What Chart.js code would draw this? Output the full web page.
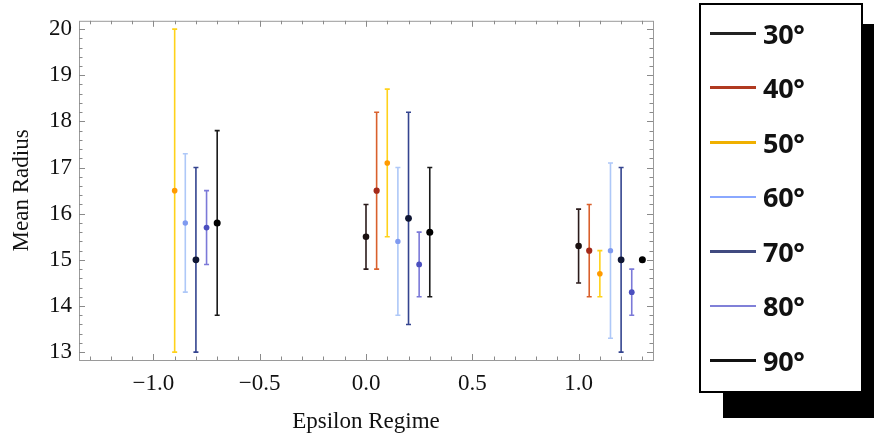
<!DOCTYPE html>
<html>
<head>
<meta charset="utf-8">
<script src="https://cdn.jsdelivr.net/npm/chart.js@4.4.1/dist/chart.umd.min.js"></script>
<style>
    html, body { margin: 0; padding: 0; background: #fff; }
    #wrap { position: relative; width: 874px; height: 440px; overflow: hidden; }
    #plot { position: absolute; left: 0; top: 0; }
    #legendShadow { position: absolute; left: 723px; top: 24px; width: 170px; height: 394px; background: #000; }
    #legend { position: absolute; left: 699px; top: 3px; width: 160px; height: 386px; background: #fff; border: 2px solid #000; }
    .entry { position: absolute; left: 9px; height: 30px; display: flex; align-items: center; }
    .entry .swatch { width: 46px; margin-right: 7px; }
    .entry span { font: bold 27px "Open Sans", "Liberation Sans", sans-serif; color: #111; letter-spacing: -0.3px; }
</style>
</head>
<body>
<div id="wrap">
    <canvas id="plot" width="874" height="440"></canvas>
    <div id="legendShadow"></div>
    <div id="legend"></div>
</div>
<script>
    // series labels and colours
    const angleLabels = ['30°', '40°', '50°', '60°', '70°', '80°', '90°'];
    const lineColors = ['#2b1b1b', '#d9602c', '#ffd21a', '#aec8f8', '#34448f', '#7b79d8', '#1a1a1a'];
    const pointColors = ['#1a1010', '#a32a1a', '#ff9a00', '#7f9af0', '#0f1633', '#4b4fbf', '#000000'];
    const legendColors = ['#222222', '#b03a20', '#f0b000', '#8aa8ff', '#404a80', '#8080d8', '#111111'];
    const pointSizes = [3.3, 3.1, 2.8, 2.7, 3.4, 2.9, 3.5];

    // epsilon regime (x), mean radius, half-width of error bar
    const eps30 = [0.0, 1.0];
    const mean30 = [15.5, 15.3];
    const err30 = [0.7, 0.8];

    const eps40 = [0.05, 1.05];
    const mean40 = [16.5, 15.2];
    const err40 = [1.7, 1.0];

    const eps50 = [-0.9, 0.1, 1.1];
    const mean50 = [16.5, 17.1, 14.7];
    const err50 = [3.5, 1.6, 0.5];

    const eps60 = [-0.85, 0.15, 1.15];
    const mean60 = [15.8, 15.4, 15.2];
    const err60 = [1.5, 1.6, 1.9];

    const eps70 = [-0.8, 0.2, 1.2];
    const mean70 = [15.0, 15.9, 15.0];
    const err70 = [2.0, 2.3, 2.0];

    const eps80 = [-0.75, 0.25, 1.25];
    const mean80 = [15.7, 14.9, 14.3];
    const err80 = [0.8, 0.7, 0.5];

    const eps90 = [-0.7, 0.3, 1.3];
    const mean90 = [15.8, 15.6, 15.0];
    const err90 = [2.0, 1.4, 0];

    const xTickValues = [-1.0, -0.5, 0.0, 0.5, 1.0];
    const xTickLabels = ['\u22121.0', '\u22120.5', '0.0', '0.5', '1.0'];
    const yTickValues = [13, 14, 15, 16, 17, 18, 19, 20];

    const seriesX = [eps30, eps40, eps50, eps60, eps70, eps80, eps90];
    const seriesMean = [mean30, mean40, mean50, mean60, mean70, mean80, mean90];
    const seriesErr = [err30, err40, err50, err60, err70, err80, err90];

    const datasets = angleLabels.map((label, i) => ({
        label: label,
        data: seriesX[i].map((x, j) => ({ x: x, y: seriesMean[i][j], err: seriesErr[i][j] })),
        pointRadius: pointSizes[i],
        pointBackgroundColor: pointColors[i],
        pointBorderWidth: 0,
        barColor: lineColors[i],
        showLine: false
    }));

    const errorBars = {
        id: 'errorBars',
        beforeDatasetsDraw(chart) {
            const { ctx, scales: { x, y } } = chart;
            ctx.save();
            ctx.lineWidth = 1.6;
            chart.data.datasets.forEach(ds => {
                ctx.strokeStyle = ds.barColor;
                ds.data.forEach(p => {
                    if (!p.err) return;
                    const px = x.getPixelForValue(p.x);
                    const top = y.getPixelForValue(p.y + p.err);
                    const bot = y.getPixelForValue(p.y - p.err);
                    ctx.beginPath();
                    ctx.moveTo(px, top);
                    ctx.lineTo(px, bot);
                    ctx.moveTo(px - 2.5, top);
                    ctx.lineTo(px + 2.5, top);
                    ctx.moveTo(px - 2.5, bot);
                    ctx.lineTo(px + 2.5, bot);
                    ctx.stroke();
                });
            });
            ctx.restore();
        }
    };

    // mathematica style frame with inward ticks on all sides
    const frame = {
        id: 'frame',
        beforeDatasetsDraw(chart) {
            const { ctx, chartArea: a, scales: { x, y } } = chart;
            ctx.save();
            ctx.strokeStyle = '#9a9a9a';
            ctx.lineWidth = 1;
            ctx.strokeRect(a.left + 0.5, a.top + 0.5, a.right - a.left, a.bottom - a.top);
            ctx.strokeStyle = '#8a8a8a';
            ctx.beginPath();
            for (let i = -13; i <= 13; i++) {
                const px = Math.round(x.getPixelForValue(i / 10)) + 0.5;
                const len = i % 5 === 0 ? 6 : 3.5;
                ctx.moveTo(px, a.bottom);
                ctx.lineTo(px, a.bottom - len);
                ctx.moveTo(px, a.top);
                ctx.lineTo(px, a.top + len);
            }
            for (let i = 65; i <= 100; i++) {
                const py = Math.round(y.getPixelForValue(i / 5)) + 0.5;
                const len = i % 5 === 0 ? 6 : 3.5;
                ctx.moveTo(a.left, py);
                ctx.lineTo(a.left + len, py);
                ctx.moveTo(a.right, py);
                ctx.lineTo(a.right - len, py);
            }
            ctx.stroke();
            ctx.restore();
        }
    };

    const serif = { family: '"Liberation Serif", "Times New Roman", serif', size: 23 };

    new Chart(document.getElementById('plot').getContext('2d'), {
        type: 'scatter',
        data: { datasets: datasets },
        options: {
            responsive: false,
            animation: false,
            layout: { padding: { top: 9, right: 221, bottom: 0, left: 0 } },
            plugins: { legend: { display: false }, tooltip: { enabled: false } },
            scales: {
                x: {
                    min: -1.35,
                    max: 1.35,
                    afterBuildTicks: scale => { scale.ticks = xTickValues.map(v => ({ value: v })); },
                    afterFit: scale => { scale.height = 80; },
                    grid: { display: false, drawTicks: false },
                    border: { display: false },
                    ticks: {
                        color: '#111',
                        font: serif,
                        padding: 10,
                        maxRotation: 0,
                        callback: v => xTickLabels[xTickValues.indexOf(v)]
                    },
                    title: { display: true, text: 'Epsilon Regime', color: '#111', font: serif, padding: { top: 0, bottom: 4 } }
                },
                y: {
                    min: 12.83,
                    max: 20.18,
                    afterBuildTicks: scale => { scale.ticks = yTickValues.map(v => ({ value: v })); },
                    afterFit: scale => { scale.width = 79; },
                    grid: { display: false, drawTicks: false },
                    border: { display: false },
                    ticks: { color: '#111', font: serif, padding: 7 },
                    title: { display: true, text: 'Mean Radius', color: '#111', font: serif, padding: { top: 8, bottom: 0 } }
                }
            }
        },
        plugins: [frame, errorBars]
    });

    const legendBox = document.getElementById('legend');
    angleLabels.forEach((label, i) => {
        const row = document.createElement('div');
        row.className = 'entry';
        row.style.top = (13 + i * 54.5) + 'px';
        const sw = document.createElement('div');
        sw.className = 'swatch';
        sw.style.background = legendColors[i];
        sw.style.height = (i === 3 || i === 5) ? '2px' : '3px';
        const txt = document.createElement('span');
        txt.textContent = label;
        row.appendChild(sw);
        row.appendChild(txt);
        legendBox.appendChild(row);
    });
</script>
</body>
</html>
